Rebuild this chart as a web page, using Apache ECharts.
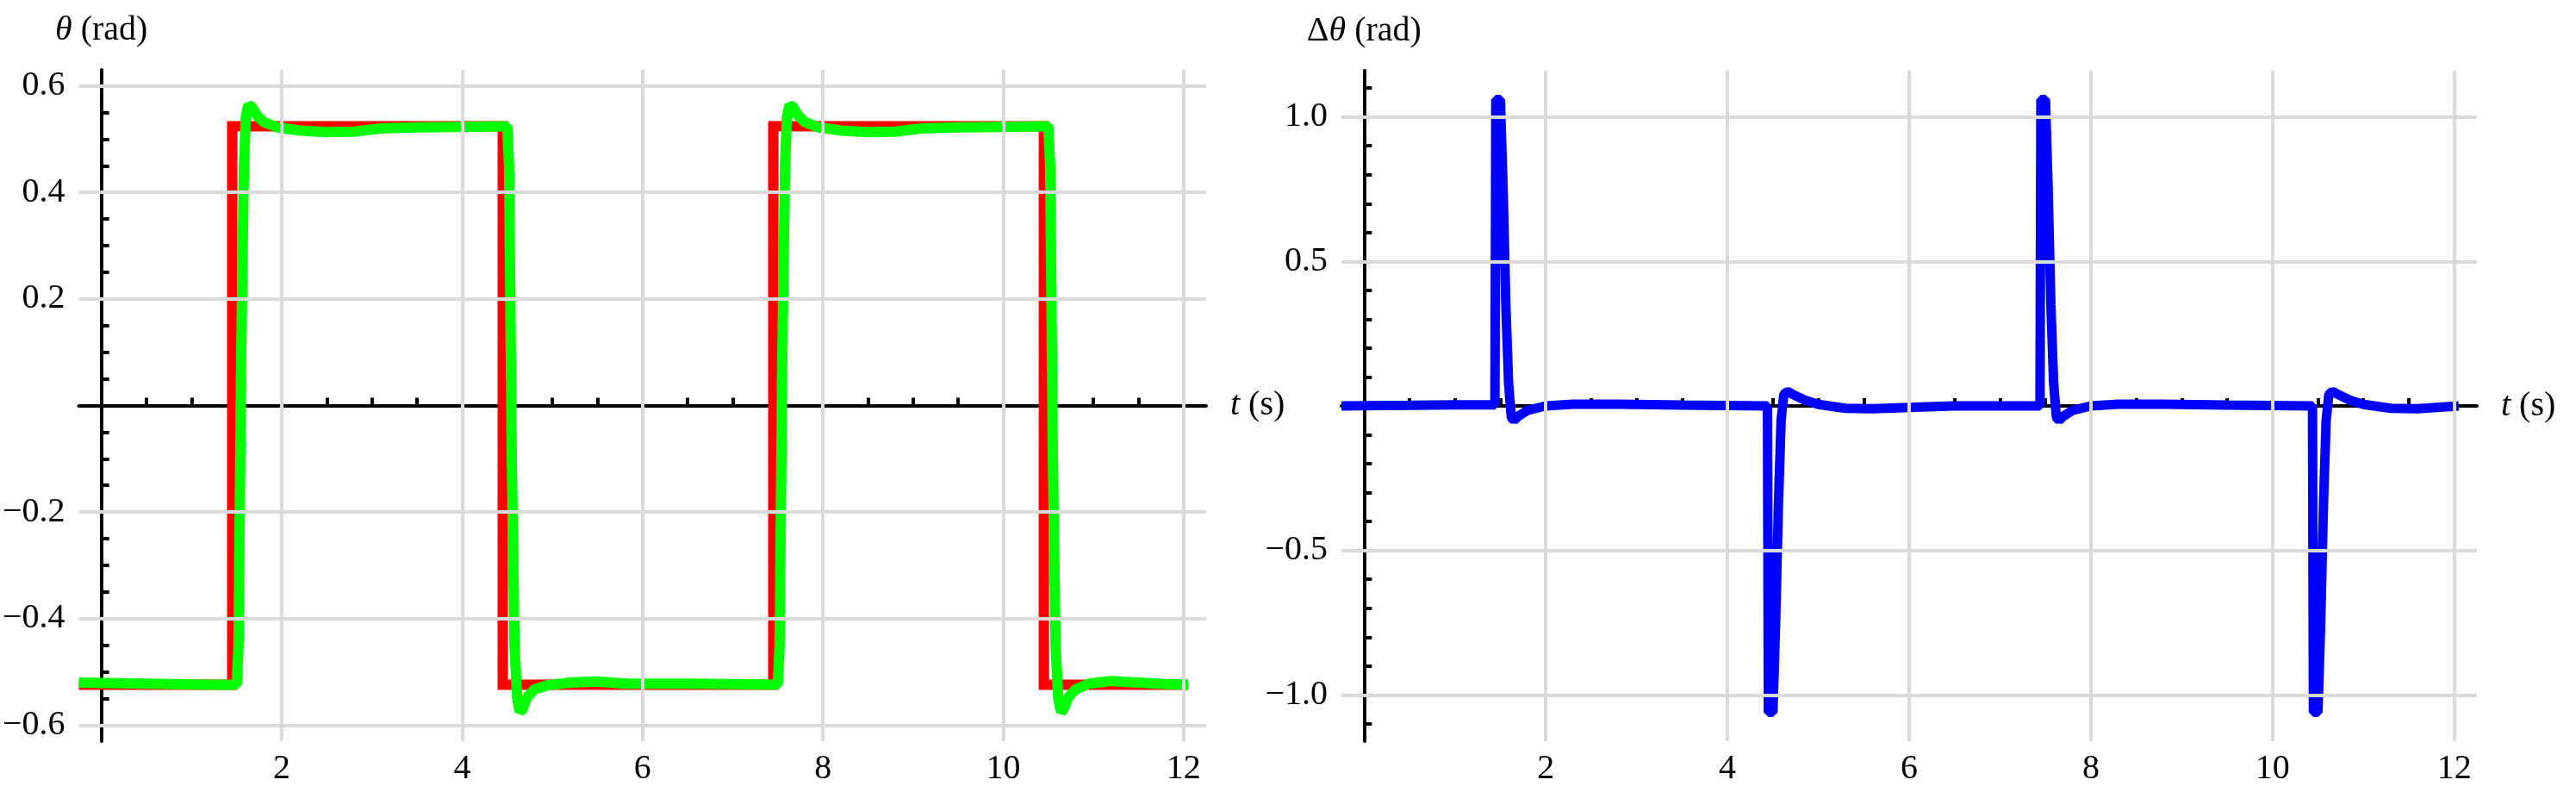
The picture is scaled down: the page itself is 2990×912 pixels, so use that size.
<!DOCTYPE html>
<html><head><meta charset="utf-8">
<script src="https://cdn.jsdelivr.net/npm/echarts@6/dist/echarts.min.js"></script>
<style>html,body{margin:0;padding:0;background:#fff}#c{width:2990px;height:912px}</style>
</head><body><div id="c"></div>
<script>
// tick labels
const xMajor = [2,4,6,8,10,12];
const xMinor = [0.5,1,1.5,2.5,3,3.5,4.5,5,5.5,6.5,7,7.5,8.5,9,9.5,10.5,11,11.5];
const yMajorL = [-0.6,-0.4,-0.2,0.2,0.4,0.6];
const yMinorL = [-0.55,-0.5,-0.45,-0.35,-0.3,-0.25,-0.15,-0.1,-0.05,0.05,0.1,0.15,0.25,0.3,0.35,0.45,0.5,0.55];
const yMajorR = [-1.0,-0.5,0.5,1.0];
const yMinorR = [-1.1,-0.9,-0.8,-0.7,-0.6,-0.4,-0.3,-0.2,-0.1,0.1,0.2,0.3,0.4,0.6,0.7,0.8,0.9,1.1];

// reference (red)
const refT = [-0.25,1.45,1.45,4.45,4.45,7.45,7.45,10.45,10.45,12.05];
const refV = [-0.524,-0.524,0.524,0.524,-0.524,-0.524,0.524,0.524,-0.524,-0.524];

// measured (green)
const measT = [-0.25,0.5,1.2,1.5,1.52,1.55,1.58,1.6,1.63,1.67,1.72,1.8,1.95,2.2,2.5,2.8,3.1,3.5,4.0,4.5,
  4.52,4.55,4.58,4.61,4.64,4.67,4.72,4.8,4.95,5.2,5.5,5.8,6.1,6.5,7.0,7.5,
  7.52,7.55,7.58,7.6,7.63,7.67,7.72,7.8,7.95,8.2,8.5,8.8,9.1,9.5,10.0,10.5,
  10.52,10.55,10.58,10.61,10.64,10.67,10.72,10.8,10.95,11.2,11.5,11.8,12.05];
const measV = [-0.52,-0.522,-0.524,-0.524,-0.45,0.1,0.45,0.54,0.564,0.56,0.545,0.532,0.522,0.516,0.513,0.514,0.52,0.522,0.523,0.524,
  0.45,-0.1,-0.45,-0.55,-0.575,-0.57,-0.548,-0.533,-0.525,-0.52,-0.518,-0.522,-0.522,-0.522,-0.523,-0.524,
  -0.45,0.1,0.45,0.54,0.564,0.56,0.545,0.532,0.522,0.516,0.513,0.514,0.52,0.522,0.523,0.524,
  0.45,-0.1,-0.45,-0.55,-0.575,-0.57,-0.548,-0.533,-0.522,-0.517,-0.52,-0.523,-0.524];

// error (blue)
const errT = [-0.25,0.5,1.0,1.44,1.45,1.5,1.53,1.56,1.59,1.62,1.65,1.7,1.8,2.0,2.3,2.8,3.5,4.44,
  4.45,4.5,4.53,4.56,4.59,4.62,4.66,4.72,4.85,5.0,5.3,5.6,6.0,6.5,7.44,
  7.45,7.5,7.53,7.56,7.59,7.62,7.65,7.7,7.8,8.0,8.3,8.8,9.5,10.44,
  10.45,10.5,10.53,10.56,10.59,10.62,10.66,10.72,10.85,11.0,11.3,11.6,12.05];
const errV = [0.0,0.002,0.004,0.004,1.06,1.06,0.75,0.35,0.08,-0.04,-0.05,-0.035,-0.015,0.0,0.006,0.006,0.003,0.0,
  -1.06,-1.06,-0.75,-0.35,-0.05,0.04,0.05,0.04,0.02,0.005,-0.008,-0.01,-0.005,0.0,0.0,
  1.06,1.06,0.75,0.35,0.08,-0.04,-0.05,-0.035,-0.015,0.0,0.006,0.006,0.003,0.0,
  -1.06,-1.06,-0.75,-0.35,-0.05,0.04,0.05,0.04,0.02,0.005,-0.008,-0.01,0.0];

const FONT = '"Liberation Serif", "DejaVu Serif", serif';
const FS = 40;
const zip = (a,b)=>a.map((t,i)=>[t,b[i]]);
const fmt = v => (Math.round(v*10)/10).toFixed(1).replace('-','\u2212');

function xAxes(g){
  const base = {gridIndex:g,type:'value',min:-0.25,max:12.25,splitLine:{show:false}};
  return [
    Object.assign({}, base, {
      axisLine:{onZero:true,onZeroAxisIndex:g*2,lineStyle:{color:'#000',width:4}},
      axisTick:{inside:true,length:16,customValues:xMajor,lineStyle:{color:'#000',width:4}},
      axisLabel:{customValues:xMajor,margin:12,color:'#000',fontFamily:FONT,fontSize:FS,formatter:v=>String(v)},
      name:'{i|t} (s)',nameLocation:'end',nameGap:28,
      nameTextStyle:{color:'#000',fontFamily:FONT,fontSize:FS,verticalAlign:'middle',rich:{i:{fontStyle:'italic',fontFamily:FONT,fontSize:FS}}}
    }),
    Object.assign({}, base, {
      position:'bottom',
      axisLine:{show:true,onZero:true,onZeroAxisIndex:g*2,lineStyle:{color:'#000',width:0,opacity:0}},
      axisTick:{inside:true,length:9,customValues:xMinor,lineStyle:{color:'#000',width:4}},
      axisLabel:{show:false}
    })
  ];
}
function yAxes(g,mn,mx,maj,minr,nm){
  const base = {gridIndex:g,type:'value',min:mn,max:mx,splitLine:{show:false}};
  return [
    Object.assign({}, base, {
      axisLine:{onZero:true,onZeroAxisIndex:g*2,lineStyle:{color:'#000',width:4}},
      axisTick:{inside:true,length:17,customValues:maj,lineStyle:{color:'#000',width:4}},
      axisLabel:{customValues:maj,margin:16,color:'#000',fontFamily:FONT,fontSize:FS,formatter:fmt},
      name:nm,nameLocation:'end',nameGap:26,
      nameTextStyle:{color:'#000',fontFamily:FONT,fontSize:FS,align:'center',rich:{i:{fontStyle:'italic',fontFamily:FONT,fontSize:FS}}}
    }),
    Object.assign({}, base, {
      position:'left',
      axisLine:{show:true,onZero:true,onZeroAxisIndex:g*2,lineStyle:{color:'#000',width:0,opacity:0}},
      axisTick:{inside:true,length:9,customValues:minr,lineStyle:{color:'#000',width:4}},
      axisLabel:{show:false}
    })
  ];
}
function gridLines(xi,yi,ymn,ymx,ymaj){
  const d = [];
  xMajor.forEach(x=>d.push([{coord:[x,ymn]},{coord:[x,ymx]}]));
  ymaj.forEach(y=>d.push([{coord:[-0.25,y]},{coord:[12.25,y]}]));
  return {type:'line',xAxisIndex:xi,yAxisIndex:yi,data:[],z:1,silent:true,
    markLine:{silent:true,symbol:'none',label:{show:false},animation:false,
      lineStyle:{color:'#dadada',width:4,type:'solid'},data:d}};
}

const xa = xAxes(0).concat(xAxes(1));
const ya = yAxes(0,-0.63,0.63,yMajorL,yMinorL,'{i|θ} (rad)').concat(yAxes(1,-1.16,1.16,yMajorR,yMinorR,'Δ{i|θ} (rad)'));

const chart = echarts.init(document.getElementById('c'),null,{renderer:'canvas'});
chart.setOption({
  animation:false,
  backgroundColor:'#fff',
  textStyle:{fontFamily:FONT},
  grid:[
    {left:83,width:1317,top:81,height:812},
    {left:1557,width:1318,top:82,height:806}
  ],
  xAxis:xa,
  yAxis:ya,
  series:[
    gridLines(0,0,-0.63,0.63,yMajorL),
    gridLines(2,2,-1.16,1.16,yMajorR),
    {type:'line',xAxisIndex:0,yAxisIndex:0,data:zip(refT,refV),showSymbol:false,z:3,
      lineStyle:{color:'#ff0000',width:12,join:'miter',cap:'butt'}},
    {type:'line',xAxisIndex:0,yAxisIndex:0,data:zip(measT,measV),showSymbol:false,z:4,
      lineStyle:{color:'#00ff00',width:12,cap:'butt'}},
    {type:'line',xAxisIndex:2,yAxisIndex:2,data:zip(errT,errV),showSymbol:false,z:4,
      lineStyle:{color:'#0000ff',width:11,cap:'butt'}}
  ]
});
</script></body></html>
